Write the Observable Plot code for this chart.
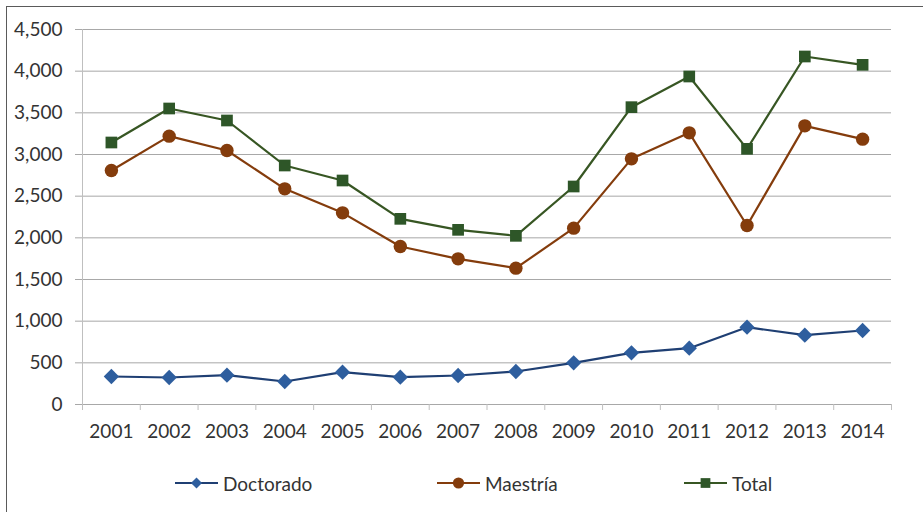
<!DOCTYPE html>
<html>
<head>
<meta charset="utf-8">
<script src="https://cdn.jsdelivr.net/npm/d3@7"></script>
<script src="https://cdn.jsdelivr.net/npm/@observablehq/plot@0.6"></script>
<style>
  html, body { margin: 0; padding: 0; background: #fff; }
  body { width: 923px; height: 512px; position: relative; overflow: hidden; font-family: Lato, "Open Sans", sans-serif; }
  #frame { position: absolute; left: 6px; top: 6px; width: 1200px; height: 1200px; border-top: 1px solid #5a5a5a; border-left: 1px solid #5a5a5a; box-sizing: border-box; pointer-events: none; }
  #chart { position: absolute; left: 0; top: 0; }
  .legend-item { position: absolute; top: 473px; display: flex; align-items: center; height: 20px; font-size: 19px; color: #333; }
  .legend-item svg { display: block; margin-right: 4px; }
</style>
</head>
<body>
<div id="chart"></div>
<div id="frame"></div>
<div id="legend"></div>
<script>
const years = [2001, 2002, 2003, 2004, 2005, 2006, 2007, 2008, 2009, 2010, 2011, 2012, 2013, 2014];
const doctorado = [336, 324, 352, 276, 388, 328, 348, 396, 500, 620, 676, 928, 832, 888];
const maestria = [2808, 3220, 3048, 2588, 2300, 1896, 1748, 1636, 2116, 2948, 3260, 2148, 3344, 3184];
const total = [3144, 3552, 3408, 2868, 2688, 2228, 2096, 2024, 2616, 3568, 3936, 3068, 4176, 4076];
const yTicks = [0, 500, 1000, 1500, 2000, 2500, 3000, 3500, 4000, 4500];
const seriesNames = ["Doctorado", "Maestría", "Total"];

const seriesStyle = {
  "Doctorado": {line: "#1f3f73", fill: "#2e5e9e", symbol: "diamond2", r: 6.9, lr: 5.0},
  "Maestría": {line: "#843c0c", fill: "#843c0c", symbol: "circle", r: 6.7, lr: 5.6},
  "Total": {line: "#375623", fill: "#2e5628", symbol: "square", r: 6.6, lr: 5.5}
};

const seriesValues = {"Doctorado": doctorado, "Maestría": maestria, "Total": total};
const rows = seriesNames.flatMap(s => years.map((yr, i) => ({series: s, year: yr, value: seriesValues[s][i]})));
const bounds = years.map(y => y - 0.5).concat([years[years.length - 1] + 0.5]);

const marks = [
  Plot.gridY(yTicks, {stroke: "#a8a8a8", strokeOpacity: 1, strokeWidth: 1}),
  Plot.axisY(yTicks, {tickSize: 7, tickPadding: 13, stroke: "#a8a8a8", tickFormat: d3.format(","), fontSize: 19, fill: "#333", label: null}),
  Plot.ruleX([bounds[0]], {stroke: "#bfbfbf", strokeWidth: 1}),
  Plot.ruleY([0], {stroke: "#a8a8a8", strokeWidth: 1}),
  Plot.axisX(bounds, {tickSize: 6, stroke: "#bfbfbf", tickFormat: () => "", label: null}),
  Plot.axisX(years, {tickSize: 0, tickPadding: 20, tickFormat: d => String(d), fontSize: 19, fill: "#333", label: null})
];
for (const s of seriesNames) {
  const st = seriesStyle[s];
  const data = rows.filter(d => d.series === s);
  marks.push(Plot.line(data, {x: "year", y: "value", stroke: st.line, strokeWidth: 2.2}));
  marks.push(Plot.dot(data, {x: "year", y: "value", symbol: () => st.symbol, fill: st.fill, stroke: "none", r: st.r}));
}

const chart = Plot.plot({
  width: 923,
  height: 455,
  marginTop: 29,
  marginBottom: 51,
  marginLeft: 82,
  marginRight: 32,
  style: {fontFamily: "Lato, 'Open Sans', sans-serif", background: "transparent"},
  x: {type: "linear", domain: [bounds[0], bounds[bounds.length - 1]], axis: null},
  y: {type: "linear", domain: [0, 4500], axis: null},
  symbol: {type: "identity"},
  marks
});
document.getElementById("chart").appendChild(chart);

// Legend
const legendLeft = {"Doctorado": 175, "Maestría": 437, "Total": 684};
const legend = document.getElementById("legend");
for (const s of seriesNames) {
  const st = seriesStyle[s];
  const item = document.createElement("div");
  item.className = "legend-item";
  item.style.left = legendLeft[s] + "px";
  const svg = d3.create("svg").attr("width", 44).attr("height", 20);
  svg.append("line").attr("x1", 0).attr("x2", 43).attr("y1", 10).attr("y2", 10).attr("stroke", st.line).attr("stroke-width", 2.2);
  const symType = st.symbol === "diamond2" ? d3.symbolDiamond2 : st.symbol === "circle" ? d3.symbolCircle : d3.symbolSquare;
  svg.append("path").attr("transform", "translate(21.5,10)")
    .attr("d", d3.symbol(symType, Math.PI * st.lr * st.lr)())
    .attr("fill", st.fill);
  item.appendChild(svg.node());
  const label = document.createElement("span");
  label.textContent = s;
  item.appendChild(label);
  legend.appendChild(item);
}
</script>
</body>
</html>
